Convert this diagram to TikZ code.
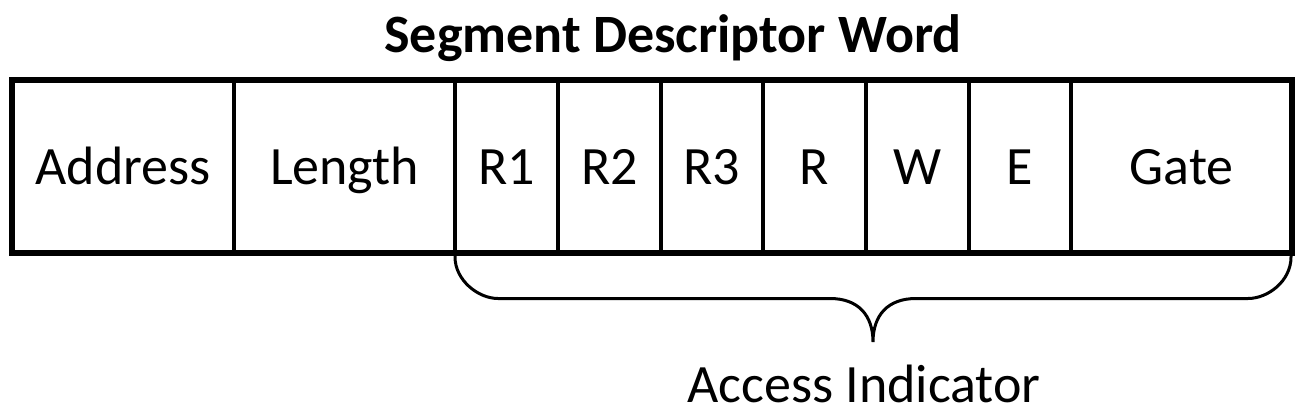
\documentclass[tikz,border=0pt]{standalone}
\usepackage{fontspec}
\setmainfont{Carlito}
\begin{document}
\begin{tikzpicture}[x=1pt,y=-1pt,
  cell/.style={draw, line width=4pt, inner sep=0pt, outer sep=0pt,
    minimum height=173.5pt, text height=37pt, text depth=0pt,
    font=\fontsize{54}{60}\selectfont},
  outerbox/.style={line width=6pt},
  brace/.style={line width=3pt},
  label/.style={inner sep=0pt, anchor=base, font=\fontsize{54}{60}\selectfont}]
\useasboundingbox (0,0) rectangle (1300,418);
% cells: centre x and width from divider positions
\node[cell, minimum width=222pt] (addr) at (123,166.25) {Address};
\node[cell, minimum width=221pt] (len) at (344.5,166.25) {Length};
\node[cell, minimum width=103pt] (r1) at (506.5,166.25) {R1};
\node[cell, minimum width=103pt] (r2) at (609.5,166.25) {R2};
\node[cell, minimum width=102pt] (r3) at (712,166.25) {R3};
\node[cell, minimum width=103pt] (r) at (814.5,166.25) {R};
\node[cell, minimum width=103pt] (w) at (917.5,166.25) {W};
\node[cell, minimum width=102pt] (e) at (1020,166.25) {E};
\node[cell, minimum width=221pt] (gate) at (1181.5,166.25) {Gate};
\draw[outerbox] (addr.north west) rectangle (gate.south east);
\node[label, font=\fontsize{54}{60}\selectfont\bfseries] (title) at (673,52) {Segment Descriptor Word};
\node[label] (acc) at (864,402) {Access Indicator};
\coordinate (tip) at (873,342);
\draw[brace] (r1.south west) -- ++(0,4)
  .. controls +(0,23) and (478,298.5) .. (498,298.5)
  -- (830,298.5)
  .. controls (858,298.5) and (873,315) .. (tip)
  .. controls (873,315) and (888,298.5) .. (916,298.5)
  -- (1248,298.5)
  .. controls (1268,298.5) and (1291,281) .. (1291,257)
  -- (1291,253);
\end{tikzpicture}
\end{document}
